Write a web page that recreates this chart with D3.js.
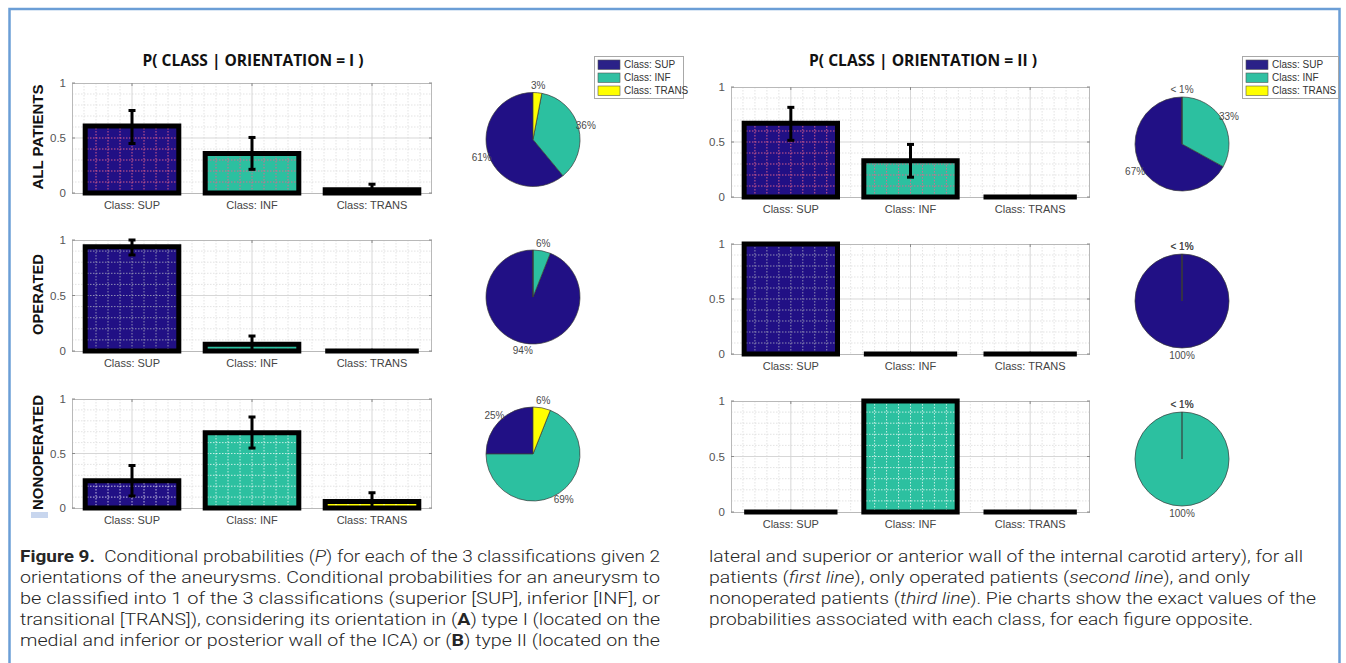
<!DOCTYPE html>
<html>
<head>
<meta charset="utf-8">
<script src="https://cdn.jsdelivr.net/npm/d3@7"></script>
<style>
  body { margin: 0; background: #fff; }
  svg { display: block; }
</style>
</head>
<body>
<svg id="fig" width="1346" height="663"></svg>
<script>
// ---- data ----
const classes = ["SUP", "INF", "TRANS"];
const classLabels = ["Class: SUP", "Class: INF", "Class: TRANS"];
const rowNames = ["ALL PATIENTS", "OPERATED", "NONOPERATED"];
const classColors = ["#211085", "#2cc0a0", "#ffff00"];
const legendColors = ["#2a2188", "#30c0a2", "#ffff00"];

// orientation I : P(class)
const probI_all = [0.61, 0.36, 0.03];
const probI_op  = [0.94, 0.06, 0];
const probI_non = [0.25, 0.69, 0.06];
// orientation I : error bar ends (null = none)
const errLoI_all = [0.45, 0.215, 0];
const errHiI_all = [0.75, 0.505, 0.08];
const errLoI_op  = [0.865, 0.0, null];
const errHiI_op  = [1.0, 0.135, null];
const errLoI_non = [0.11, 0.55, 0];
const errHiI_non = [0.39, 0.835, 0.14];

// orientation II : P(class)
const probII_all = [0.67, 0.33, 0];
const probII_op  = [1, 0, 0];
const probII_non = [0, 1, 0];
const errLoII_all = [0.515, 0.18, null];
const errHiII_all = [0.815, 0.478, null];
const errLoII_op  = [null, null, null];
const errHiII_op  = [null, null, null];
const errLoII_non = [null, null, null];
const errHiII_non = [null, null, null];

// pie slices whose percentage label is not printed
const pieLabelSkipI  = [[], ["TRANS"], []];
const pieLabelSkipII = [[], [], []];

const yTicks = [0, 0.5, 1];

// ---- layout ----
const panels = [
  {
    title: "P( CLASS | ORIENTATION = I )", titleX: 253, titleW: 221,
    probs: [probI_all, probI_op, probI_non],
    lo: [errLoI_all, errLoI_op, errLoI_non],
    hi: [errHiI_all, errHiI_op, errHiI_non],
    skip: pieLabelSkipI,
    boxes: [
      { x0: 72, x1: 432, yt: 83, yb: 193 },
      { x0: 72, x1: 432, yt: 240, yb: 351 },
      { x0: 72, x1: 432, yt: 399, yb: 508 }
    ],
    pieX: 533, pieY: [139.5, 297, 454],
    legend: { x: 594, y: 56, w: 89 },
    yLabels: true
  },
  {
    title: "P( CLASS | ORIENTATION = II )", titleX: 923, titleW: 228,
    probs: [probII_all, probII_op, probII_non],
    lo: [errLoII_all, errLoII_op, errLoII_non],
    hi: [errHiII_all, errHiII_op, errHiII_non],
    skip: pieLabelSkipII,
    boxes: [
      { x0: 731, x1: 1090, yt: 87, yb: 197 },
      { x0: 731, x1: 1090, yt: 244, yb: 354 },
      { x0: 731, x1: 1090, yt: 401, yb: 512 }
    ],
    pieX: 1182, pieY: [144, 301, 459],
    legend: { x: 1242, y: 56, w: 96 },
    yLabels: false
  }
];
const yLabelWidths = [105, 81, 115];
const inBarGrid = ["#e4648c", "#9a9ab8", "rgba(255,255,255,0.8)"];

const svg = d3.select("#fig");
svg.append("rect").attr("width", 1346).attr("height", 663).attr("fill", "#fff");

// page frame
svg.append("rect")
  .attr("x", 9.5).attr("y", 9).attr("width", 1330).attr("height", 700)
  .attr("fill", "none").attr("stroke", "#6b9ed6").attr("stroke-width", 2.5);

let clipId = 0;

function drawBars(g, box, probs, lo, hi, row, showYLabel) {
  const x = d3.scaleBand().domain(classes).range([box.x0, box.x1]).padding(0);
  const xl = d3.scaleLinear().domain([0.5, 3.5]).range([box.x0, box.x1]);
  const y = d3.scaleLinear().domain([0, 1]).range([box.yb, box.yt]);

  const minorX = d3.range(6, 35).map(d => d / 10).filter(d => Math.abs(d - Math.round(d)) > 1e-6);
  const minorY = d3.range(1, 10).map(d => d / 10).filter(d => d !== 0.5);
  const majorX = [1, 2, 3];
  const majorY = [0.5];

  function grid(sel, color, dashMinor, dashMajor, wMinor, wMajor) {
    sel.selectAll(null).data(minorX).join("line")
      .attr("x1", d => xl(d)).attr("x2", d => xl(d))
      .attr("y1", box.yt).attr("y2", box.yb)
      .attr("stroke", color.minor).attr("stroke-width", wMinor).attr("stroke-dasharray", dashMinor);
    sel.selectAll(null).data(minorY).join("line")
      .attr("y1", d => y(d)).attr("y2", d => y(d))
      .attr("x1", box.x0).attr("x2", box.x1)
      .attr("stroke", color.minor).attr("stroke-width", wMinor).attr("stroke-dasharray", dashMinor);
    sel.selectAll(null).data(majorX).join("line")
      .attr("x1", d => xl(d)).attr("x2", d => xl(d))
      .attr("y1", box.yt).attr("y2", box.yb)
      .attr("stroke", color.major).attr("stroke-width", wMajor).attr("stroke-dasharray", dashMajor);
    sel.selectAll(null).data(majorY).join("line")
      .attr("y1", d => y(d)).attr("y2", d => y(d))
      .attr("x1", box.x0).attr("x2", box.x1)
      .attr("stroke", color.major).attr("stroke-width", wMajor).attr("stroke-dasharray", dashMajor);
  }

  // background grid
  const bg = g.append("g");
  grid(bg, { minor: "#dcdcdc", major: "#d2d2d2" }, "1.5,1.5", null, 0.8, 0.9);

  // axes box with inward ticks
  g.append("rect")
    .attr("x", box.x0 + 0.5).attr("y", box.yt + 0.5)
    .attr("width", box.x1 - box.x0 - 1).attr("height", box.yb - box.yt)
    .attr("fill", "none").attr("stroke", "#b9b9b9").attr("stroke-width", 1);
  const tk = g.append("g").attr("stroke", "#8a8a8a").attr("stroke-width", 1);
  majorX.forEach(d => {
    tk.append("line").attr("x1", xl(d)).attr("x2", xl(d)).attr("y1", box.yt).attr("y2", box.yt + 3);
    tk.append("line").attr("x1", xl(d)).attr("x2", xl(d)).attr("y1", box.yb).attr("y2", box.yb - 3);
  });
  yTicks.forEach(d => {
    tk.append("line").attr("x1", box.x0).attr("x2", box.x0 + 3).attr("y1", y(d)).attr("y2", y(d));
    tk.append("line").attr("x1", box.x1).attr("x2", box.x1 - 3).attr("y1", y(d)).attr("y2", y(d));
  });

  // bars
  const bw = x.bandwidth() * 0.78;
  const data = classes.map((c, i) => ({ c, i, v: probs[i], lo: lo[i], hi: hi[i] }));
  data.forEach(d => {
    const bx = x(d.c) + (x.bandwidth() - bw) / 2;
    const top = y(d.v), base = y(0);
    const id = "barclip" + (clipId++);
    g.append("clipPath").attr("id", id).append("rect")
      .attr("x", bx).attr("y", top).attr("width", bw).attr("height", Math.max(0, base - top));
    g.append("path")
      .attr("d", `M${bx},${base}V${top}H${bx + bw}V${base}Z`)
      .attr("fill", classColors[d.i]);
    // grid shown through the bar face
    const ig = g.append("g").attr("clip-path", `url(#${id})`);
    grid(ig, { minor: inBarGrid[row], major: inBarGrid[row] }, "1.5,1.5", "1.5,1.5", 0.9, 0.9);
    g.append("path")
      .attr("d", `M${bx},${base}V${top}H${bx + bw}V${base}Z`)
      .attr("fill", "none").attr("stroke", "#000").attr("stroke-width", 5)
      .attr("stroke-linejoin", "miter");
  });

  // error bars
  data.filter(d => d.lo !== null && d.hi !== null).forEach(d => {
    const cx = x(d.c) + x.bandwidth() / 2;
    const eg = g.append("g").attr("stroke", "#000").attr("stroke-width", 3);
    eg.append("line").attr("x1", cx).attr("x2", cx).attr("y1", y(d.lo)).attr("y2", y(d.hi));
    eg.append("line").attr("x1", cx - 3.5).attr("x2", cx + 3.5).attr("y1", y(d.hi)).attr("y2", y(d.hi));
    eg.append("line").attr("x1", cx - 3.5).attr("x2", cx + 3.5).attr("y1", y(d.lo)).attr("y2", y(d.lo));
  });

  // tick labels
  const ya = g.append("g").attr("transform", `translate(${box.x0 - 1},0)`)
    .call(d3.axisLeft(y).tickValues(yTicks).tickSize(0).tickPadding(5)
      .tickFormat(d => d === 0.5 ? "0.5" : d3.format("d")(d)));
  ya.select(".domain").remove();
  ya.selectAll("text").attr("fill", "#555").attr("font-size", 11.5)
    .attr("font-family", "'Liberation Sans', Arial, sans-serif");

  const xa = g.append("g").attr("transform", `translate(0,${box.yb})`)
    .call(d3.axisBottom(x).tickSize(0).tickPadding(8).tickFormat((c, i) => classLabels[i]));
  xa.select(".domain").remove();
  xa.selectAll("text").attr("fill", "#444").attr("font-size", 11)
    .attr("font-family", "'Liberation Sans', Arial, sans-serif");

  if (showYLabel) {
    g.append("text")
      .attr("transform", `translate(${box.x0 - 34},${(box.yt + box.yb) / 2 - 1}) rotate(-90)`)
      .attr("text-anchor", "middle").attr("dy", "0.35em")
      .attr("font-family", "'Liberation Sans', Arial, sans-serif")
      .attr("font-weight", "bold").attr("font-size", 15).attr("fill", "#111")
      .attr("textLength", yLabelWidths[row]).attr("lengthAdjust", "spacingAndGlyphs")
      .text(rowNames[row]);
  }
}

function drawPie(g, cx, cy, probs, skip) {
  const r = 47;
  const pie = d3.pie().sort(null).value(d => d.v).startAngle(0).endAngle(-2 * Math.PI);
  const arcs = pie(classes.map((c, i) => ({ c, i, v: probs[i] })));
  const arc = d3.arc().innerRadius(0).outerRadius(r);
  const labelArc = d3.arc().innerRadius(r * 1.16).outerRadius(r * 1.16);
  const pg = g.append("g").attr("transform", `translate(${cx},${cy})`);
  pg.selectAll("path.slice").data(arcs).join("path")
    .attr("class", "slice")
    .attr("d", arc)
    .attr("fill", d => classColors[d.data.i])
    .attr("stroke", "#3a3a3a").attr("stroke-width", 0.7);
  pg.selectAll("text").data(arcs.filter(d => !skip.includes(d.data.c))).join("text")
    .attr("transform", d => `translate(${labelArc.centroid(d)})`)
    .attr("text-anchor", "middle").attr("dy", "0.35em")
    .attr("font-family", "'Liberation Sans', Arial, sans-serif")
    .attr("font-size", 10).attr("fill", "#4a4a4a")
    .text(d => d.data.v < 0.01 ? "< 1%" : Math.round(d.data.v * 100) + "%");
}

function drawLegend(g, L) {
  const lg = g.append("g");
  lg.append("rect").attr("x", L.x + 0.5).attr("y", L.y + 0.5).attr("width", L.w).attr("height", 42)
    .attr("fill", "#fff").attr("stroke", "#a8a8a8").attr("stroke-width", 1);
  classLabels.forEach((lab, i) => {
    const yy = L.y + 8.5 + i * 13;
    lg.append("rect").attr("x", L.x + 4).attr("y", yy - 4.5).attr("width", 22).attr("height", 9.5)
      .attr("fill", legendColors[i]).attr("stroke", "#555").attr("stroke-width", 0.6);
    lg.append("text").attr("x", L.x + 30).attr("y", yy).attr("dy", "0.35em")
      .attr("font-family", "'Liberation Sans', Arial, sans-serif")
      .attr("font-size", 10).attr("fill", "#333").text(lab);
  });
}

panels.forEach(p => {
  const g = svg.append("g");
  g.append("text")
    .attr("x", p.titleX).attr("y", 66).attr("text-anchor", "middle")
    .attr("font-family", "'Open Sans', 'Liberation Sans', sans-serif")
    .attr("font-weight", "bold").attr("font-size", 16).attr("fill", "#111")
    .attr("textLength", p.titleW).attr("lengthAdjust", "spacingAndGlyphs")
    .text(p.title);
  p.boxes.forEach((box, row) => {
    drawBars(g, box, p.probs[row], p.lo[row], p.hi[row], row, p.yLabels);
    drawPie(g, p.pieX, p.pieY[row], p.probs[row], p.skip[row]);
  });
  drawLegend(g, p.legend);
});

// small highlight mark under the last row label
svg.append("rect").attr("x", 31).attr("y", 512).attr("width", 17).attr("height", 6).attr("fill", "#c8d6ee");

// ---- caption ----
const captionLeft = [
  [["b", "Figure 9."], ["n", "  Conditional probabilities ("], ["i", "P"], ["n", ") for each of the 3 classifications given 2"]],
  [["n", "orientations of the aneurysms. Conditional probabilities for an aneurysm to"]],
  [["n", "be classified into 1 of the 3 classifications (superior [SUP], inferior [INF], or"]],
  [["n", "transitional [TRANS]), considering its orientation in ("], ["b", "A"], ["n", ") type I (located on the"]],
  [["n", "medial and inferior or posterior wall of the ICA) or ("], ["b", "B"], ["n", ") type II (located on the"]]
];
const captionRight = [
  [["n", "lateral and superior or anterior wall of the internal carotid artery), for all"]],
  [["n", "patients ("], ["i", "first line"], ["n", "), only operated patients ("], ["i", "second line"], ["n", "), and only"]],
  [["n", "nonoperated patients ("], ["i", "third line"], ["n", "). Pie charts show the exact values of the"]],
  [["n", "probabilities associated with each class, for each figure opposite."]]
];
const captionLeftWidths = [640, 640, 640, 640, 640];
const captionRightWidths = [594, 541, 607, 544];

function caption(lines, widths, x0) {
  lines.forEach((segs, k) => {
    const t = svg.append("text")
      .attr("x", x0).attr("y", 562 + k * 21)
      .attr("font-family", "Roboto, 'Liberation Sans', sans-serif")
      .attr("font-weight", 300).attr("font-size", 16.5).attr("fill", "#262626")
      .attr("textLength", widths[k]).attr("lengthAdjust", "spacingAndGlyphs")
      .attr("xml:space", "preserve");
    segs.forEach(([s, str]) => {
      const ts = t.append("tspan").text(str);
      if (s === "b") ts.attr("font-weight", 700);
      if (s === "i") ts.attr("font-style", "italic");
    });
  });
}
caption(captionLeft, captionLeftWidths, 20);
caption(captionRight, captionRightWidths, 709);
</script>
</body>
</html>
